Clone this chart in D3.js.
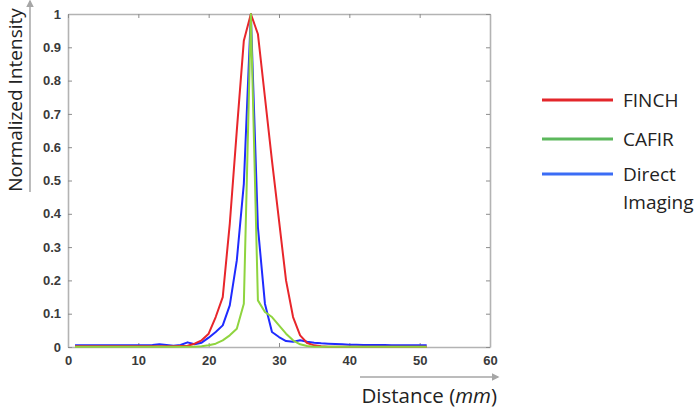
<!DOCTYPE html>
<html>
<head>
<meta charset="utf-8">
<script src="https://cdn.jsdelivr.net/npm/d3@7"></script>
<style>
  html, body { margin: 0; padding: 0; background: #fff; }
  svg { display: block; }
</style>
</head>
<body>
<svg id="chart" width="699" height="409"></svg>
<script>
// --- data (distance in mm, normalized intensity)
const distance = [1, 2, 3, 4, 5, 6, 7, 8, 9, 10, 11, 12, 13, 14, 15, 16, 17, 18, 19, 20,
  21, 22, 23, 24, 25, 26, 27, 28, 29, 30, 31, 32, 33, 34, 35, 36, 37, 38, 39, 40,
  41, 42, 43, 44, 45, 46, 47, 48, 49, 50, 51];

const finch = [0.002, 0.002, 0.002, 0.002, 0.002, 0.002, 0.002, 0.002, 0.002, 0.002,
  0.002, 0.002, 0.002, 0.002, 0.002, 0.003, 0.004, 0.01, 0.02, 0.04,
  0.09, 0.15, 0.37, 0.65, 0.92, 1.0, 0.94, 0.75, 0.56, 0.38,
  0.2, 0.09, 0.035, 0.012, 0.005, 0.002, 0.001, 0.001, 0.001, 0.001,
  0.001, 0.001, 0.001, 0.001, 0.001, 0.001, 0.001, 0.001, 0.001, 0.001, 0.001];

const cafir = [0.001, 0.001, 0.001, 0.001, 0.001, 0.001, 0.001, 0.001, 0.001, 0.001,
  0.001, 0.001, 0.001, 0.001, 0.001, 0.001, 0.001, 0.001, 0.002, 0.005,
  0.01, 0.02, 0.035, 0.055, 0.13, 1.0, 0.14, 0.105, 0.09, 0.065,
  0.04, 0.02, 0.008, 0.003, 0.001, 0.001, 0.001, 0.001, 0.001, 0.001,
  0.001, 0.001, 0.001, 0.001, 0.001, 0.001, 0.001, 0.001, 0.001, 0.001, 0.001];

const direct = [0.005, 0.005, 0.005, 0.005, 0.005, 0.005, 0.005, 0.005, 0.005, 0.005,
  0.005, 0.006, 0.008, 0.006, 0.004, 0.006, 0.014, 0.008, 0.013, 0.028,
  0.045, 0.065, 0.125, 0.26, 0.49, 1.0, 0.36, 0.13, 0.045, 0.03,
  0.018, 0.016, 0.02, 0.016, 0.013, 0.011, 0.01, 0.009, 0.008, 0.007,
  0.007, 0.006, 0.006, 0.006, 0.006, 0.005, 0.005, 0.005, 0.005, 0.005, 0.005];

const seriesNames = ["FINCH", "CAFIR", "Direct Imaging"];
const seriesColors = ["#e8262b", "#8fd43f", "#1f2bff"];
const legendColors = ["#e3262b", "#5cb85c", "#3b6cf5"];

const xTicks = [0, 10, 20, 30, 40, 50, 60];
const yTicks = [0, 0.1, 0.2, 0.3, 0.4, 0.5, 0.6, 0.7, 0.8, 0.9, 1];

const series = [finch, cafir, direct];
const drawOrder = [2, 0, 1]; // blue under red, green on top

// --- layout
const svg = d3.select("#chart");
const plot = { left: 68, right: 490, top: 14, bottom: 347 };

const x = d3.scaleLinear().domain([0, 60]).range([plot.left, plot.right]);
const y = d3.scaleLinear().domain([0, 1]).range([plot.bottom, plot.top]);

const axisGrey = "#b3b3b3";
const labelFont = "Liberation Sans, Arial, sans-serif";
const titleFont = "'Open Sans', 'Noto Sans', sans-serif";

// arrowhead
svg.append("defs").append("marker")
  .attr("id", "arrow")
  .attr("viewBox", "0 0 10 10")
  .attr("refX", 8).attr("refY", 5)
  .attr("markerWidth", 5).attr("markerHeight", 5)
  .attr("orient", "auto")
  .append("path")
  .attr("d", "M0,0 L10,5 L0,10 z")
  .attr("fill", "#a6a6a6");

// --- axes (box with inward ticks on all sides)
const fmtY = (d) => (d === 0 || d === 1 ? String(d) : d3.format(".1f")(d));

const gBottom = svg.append("g")
  .attr("transform", `translate(0,${plot.bottom})`)
  .call(d3.axisBottom(x).tickValues(xTicks).tickSizeInner(-4).tickSizeOuter(0).tickPadding(9));
const gLeft = svg.append("g")
  .attr("transform", `translate(${plot.left},0)`)
  .call(d3.axisLeft(y).tickValues(yTicks).tickFormat(fmtY).tickSizeInner(-4).tickSizeOuter(0).tickPadding(7));
const gTop = svg.append("g")
  .attr("transform", `translate(0,${plot.top})`)
  .call(d3.axisTop(x).tickValues(xTicks).tickSizeInner(-4).tickSizeOuter(0).tickFormat(""));
const gRight = svg.append("g")
  .attr("transform", `translate(${plot.right},0)`)
  .call(d3.axisRight(y).tickValues(yTicks).tickSizeInner(-4).tickSizeOuter(0).tickFormat(""));

[gBottom, gLeft, gTop, gRight].forEach((g) => {
  g.select(".domain").attr("stroke", axisGrey).attr("stroke-width", 1.6);
  g.selectAll(".tick line").attr("stroke", "#8c8c8c").attr("stroke-width", 1);
  g.selectAll(".tick text")
    .attr("fill", "#3a3a3a")
    .style("font-family", labelFont)
    .style("font-size", "13px")
    .style("font-weight", "bold");
});

// --- lines
const line = d3.line()
  .x((d, i) => x(distance[i]))
  .y((d) => y(d));

svg.append("g")
  .selectAll("path")
  .data(drawOrder)
  .join("path")
  .attr("d", (k) => line(series[k]))
  .attr("fill", "none")
  .attr("stroke", (k) => seriesColors[k])
  .attr("stroke-width", 2)
  .attr("stroke-linejoin", "round");

// --- axis titles with arrows
svg.append("line")
  .attr("x1", 30).attr("y1", 192)
  .attr("x2", 30).attr("y2", 1)
  .attr("stroke", "#a6a6a6").attr("stroke-width", 1.5)
  .attr("marker-end", "url(#arrow)");

svg.append("text")
  .attr("transform", "translate(22,100) rotate(-90)")
  .attr("text-anchor", "middle")
  .style("font-family", titleFont)
  .style("font-size", "19px")
  .attr("fill", "#222")
  .text("Normalized Intensity");

svg.append("line")
  .attr("x1", 360).attr("y1", 377)
  .attr("x2", 498).attr("y2", 377)
  .attr("stroke", "#a6a6a6").attr("stroke-width", 1.5)
  .attr("marker-end", "url(#arrow)");

const xt = svg.append("text")
  .attr("x", 497).attr("y", 403)
  .attr("text-anchor", "end")
  .style("font-family", titleFont)
  .style("font-size", "20.5px")
  .attr("fill", "#222");
xt.append("tspan").text("Distance (");
xt.append("tspan").style("font-style", "italic").text("mm");
xt.append("tspan").text(")");

// --- legend
const legendRows = [
  { y: 100, lines: ["FINCH"] },
  { y: 139, lines: ["CAFIR"] },
  { y: 174, lines: ["Direct", "Imaging"] }
];

const legend = svg.append("g");
legendRows.forEach((r, i) => {
  legend.append("line")
    .attr("x1", 542).attr("x2", 613)
    .attr("y1", r.y).attr("y2", r.y)
    .attr("stroke", legendColors[i])
    .attr("stroke-width", 3);
  r.lines.forEach((t, j) => {
    legend.append("text")
      .attr("x", 623)
      .attr("y", r.y + 7 + j * 28)
      .style("font-family", titleFont)
      .style("font-size", "19px")
      .attr("fill", "#222")
      .text(t);
  });
});
</script>
</body>
</html>
